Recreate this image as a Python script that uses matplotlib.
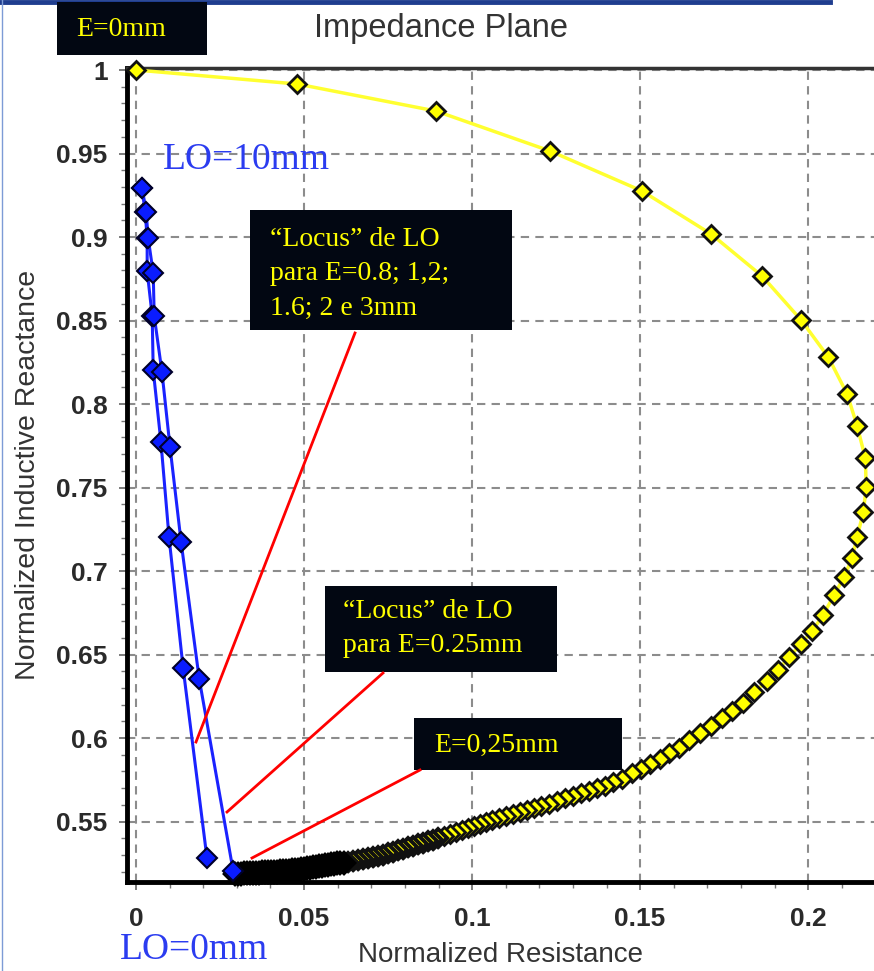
"""
Impedance plane chart: E=0mm curve plus LO loci, with slide-style callouts.
"""

import matplotlib

matplotlib.use("Agg")
import matplotlib.pyplot as plt
from matplotlib.lines import Line2D
from matplotlib.patches import Rectangle
from matplotlib.ticker import MultipleLocator


# E=0mm curve (yellow diamonds)
E0_R = [
    0.0000, 0.0480, 0.0893, 0.1232, 0.1506, 0.1711, 0.1863, 0.1979, 0.2060, 0.2116,
    0.2146, 0.2170, 0.2173, 0.2164, 0.2146, 0.2131, 0.2107, 0.2077, 0.2045, 0.2012,
    0.1979, 0.1943, 0.1911, 0.1878, 0.1839, 0.1807, 0.1774, 0.1744, 0.1711, 0.1679,
    0.1646, 0.1616, 0.1586, 0.1560, 0.1530, 0.1503, 0.1476, 0.1446, 0.1420, 0.1396,
    0.1372, 0.1348, 0.1324, 0.1301, 0.1277, 0.1253, 0.1229, 0.1205, 0.1185, 0.1164,
    0.1143, 0.1122, 0.1101, 0.1080, 0.1060, 0.1042, 0.1024, 0.1006, 0.0988, 0.0970,
    0.0952, 0.0935, 0.0917, 0.0899, 0.0884, 0.0869, 0.0854, 0.0839, 0.0824, 0.0810,
    0.0795, 0.0780, 0.0765, 0.0750, 0.0735, 0.0720, 0.0705, 0.0690, 0.0676, 0.0661,
    0.0646, 0.0631, 0.0619, 0.0607, 0.0598, 0.0589, 0.0580, 0.0571, 0.0562, 0.0554,
    0.0545, 0.0536, 0.0527, 0.0518, 0.0509, 0.0500, 0.0491, 0.0482, 0.0473, 0.0464,
    0.0455, 0.0446, 0.0437, 0.0429, 0.0420, 0.0411, 0.0402, 0.0393, 0.0384, 0.0375,
    0.0366, 0.0357, 0.0348, 0.0339, 0.0330, 0.0321, 0.0313, 0.0304, 0.0295,
]
E0_X = [
    1.0000, 0.9916, 0.9754, 0.9515, 0.9275, 0.9018, 0.8766, 0.8503, 0.8281, 0.8060,
    0.7868, 0.7677, 0.7503, 0.7353, 0.7204, 0.7078, 0.6964, 0.6856, 0.6737, 0.6641,
    0.6563, 0.6485, 0.6407, 0.6341, 0.6275, 0.6210, 0.6162, 0.6120, 0.6072, 0.6030,
    0.5988, 0.5940, 0.5910, 0.5874, 0.5844, 0.5814, 0.5790, 0.5754, 0.5737, 0.5713,
    0.5701, 0.5683, 0.5671, 0.5653, 0.5641, 0.5623, 0.5605, 0.5593, 0.5581, 0.5569,
    0.5557, 0.5545, 0.5533, 0.5521, 0.5509, 0.5497, 0.5485, 0.5473, 0.5461, 0.5449,
    0.5437, 0.5425, 0.5413, 0.5401, 0.5392, 0.5383, 0.5374, 0.5365, 0.5356, 0.5347,
    0.5338, 0.5329, 0.5320, 0.5311, 0.5302, 0.5293, 0.5287, 0.5281, 0.5275, 0.5269,
    0.5263, 0.5257, 0.5254, 0.5251, 0.5249, 0.5246, 0.5243, 0.5240, 0.5237, 0.5234,
    0.5231, 0.5228, 0.5225, 0.5222, 0.5219, 0.5216, 0.5214, 0.5212, 0.5210, 0.5208,
    0.5206, 0.5204, 0.5202, 0.5201, 0.5200, 0.5199, 0.5198, 0.5198, 0.5196, 0.5195,
    0.5194, 0.5192, 0.5192, 0.5192, 0.5190, 0.5189, 0.5188, 0.5187, 0.5186,
]

# LO loci (blue diamonds), LO=10mm at the top down to LO=0mm
LO_THICK_R = [0.0018, 0.0027, 0.0033, 0.0033, 0.0048, 0.0051, 0.0074, 0.0098, 0.0140, 0.0211]
LO_THICK_X = [0.9293, 0.9150, 0.8994, 0.8796, 0.8527, 0.8204, 0.7772, 0.7204, 0.6419, 0.5281]
LO_025_R = [0.0018, 0.0030, 0.0036, 0.0051, 0.0054, 0.0077, 0.0101, 0.0134, 0.0188, 0.0289]
LO_025_X = [0.9293, 0.9150, 0.8994, 0.8784, 0.8527, 0.8192, 0.7743, 0.7174, 0.6353, 0.5204]

X_TICKS = [0, 0.05, 0.1, 0.15, 0.2]
X_TICK_LABELS = ["0", "0.05", "0.1", "0.15", "0.2"]
Y_TICKS = [0.55, 0.6, 0.65, 0.7, 0.75, 0.8, 0.85, 0.9, 0.95, 1.0]
Y_TICK_LABELS = ["0.55", "0.6", "0.65", "0.7", "0.75", "0.8", "0.85", "0.9", "0.95", "1"]

W, H = 874, 971
SANS = ["Liberation Sans", "DejaVu Sans"]
SERIF = ["Liberation Serif", "DejaVu Serif"]
BOX_BG = "#020712"
LO_BLUE = "#2b3cf0"


def fxy(px, py):
    return px / W, 1 - py / H


def callout_box(fig, x0, y0, x1, y1, lines, tx, ty, step=34):
    fig.patches.append(Rectangle(fxy(x0, y1), (x1 - x0) / W, (y1 - y0) / H,
                                 transform=fig.transFigure, facecolor=BOX_BG,
                                 edgecolor="none", zorder=5))
    for i, s in enumerate(lines):
        fig.text(*fxy(tx, ty + i * step), s, family=SERIF, fontsize=20,
                 color="#ffff00", ha="left", va="center", zorder=6)


def red_line(fig, p0, p1):
    (x0, y0), (x1, y1) = fxy(*p0), fxy(*p1)
    fig.add_artist(Line2D([x0, x1], [y0, y1], color="#ff0000", lw=2,
                          transform=fig.transFigure, zorder=7))


fig = plt.figure(figsize=(W / 100, H / 100), dpi=100)
ax = fig.add_axes([127 / W, 1 - 882 / H, 1 - 127 / W, (882 - 68) / H])

ax.plot(E0_R, E0_X, color="#ffff30", lw=2.5, zorder=3, clip_on=False)
ax.plot(E0_R, E0_X, ls="none", marker="D", ms=9.2, mfc="#ffff00", mec="#111111",
        mew=2.0, zorder=4, clip_on=False)

# the crowded tail of the curve renders almost solid black in the original
mid = [i for i, r in enumerate(E0_R) if 0.062 <= r < 0.09 and i > 40]
low = [i for i, r in enumerate(E0_R) if r < 0.062 and i > 40]
ax.plot([E0_R[i] for i in mid], [E0_X[i] for i in mid], ls="none", marker="D",
        ms=9.2, mfc="#ffff00", mec="#111111", mew=2.8, zorder=4.1, clip_on=False)
ax.plot([E0_R[i] for i in low], [E0_X[i] for i in low], ls="none", marker="D",
        ms=9.6, mfc="#ffff00", mec="#000000", mew=4.0, zorder=4.2, clip_on=False)

for r, x in [(LO_THICK_R, LO_THICK_X), (LO_025_R, LO_025_X)]:
    ax.plot(r, x, color="#1a22ff", lw=2.2, marker="D", ms=10.5, mfc="#0a1cff",
            mec="#00002a", mew=1.5, zorder=5, clip_on=False)

ax.set_xlim(-0.0027, 0.2196)
ax.set_ylim(0.5138, 1.0012)
ax.set_xticks(X_TICKS)
ax.set_xticklabels(X_TICK_LABELS)
ax.set_yticks(Y_TICKS)
ax.set_yticklabels(Y_TICK_LABELS)
ax.xaxis.set_minor_locator(MultipleLocator(0.01))
ax.yaxis.set_minor_locator(MultipleLocator(0.01))
ax.tick_params(which="major", length=6, width=1.2, color="#666666",
               labelsize=19, labelcolor="#2a2a2a")
ax.tick_params(axis="x", which="major", pad=12)
ax.tick_params(axis="y", which="major", pad=8)
ax.tick_params(which="minor", length=4, width=1, color="#777777")
for lab in ax.get_xticklabels() + ax.get_yticklabels():
    lab.set_family(SANS)
    lab.set_fontweight("bold")

ax.grid(True, which="major", color="#8c8c8c", lw=1.5, linestyle=(0, (4, 3)))
ax.set_axisbelow(True)
ax.spines["right"].set_visible(False)
ax.spines["left"].set_linewidth(3.5)
ax.spines["bottom"].set_linewidth(3.5)
ax.spines["top"].set_linewidth(2.5)
ax.spines["top"].set_color("#333333")

fig.text(*fxy(441, 28), "Impedance Plane", family=SANS, fontsize=23.5,
         color="#333333", ha="center", va="center")
fig.text(*fxy(500, 955), "Normalized Resistance", family=SANS, fontsize=20,
         color="#333333", ha="center", va="center")
fig.text(*fxy(28, 475), "Normalized Inductive Reactance", family=SANS, fontsize=20.5,
         color="#333333", ha="center", va="center", rotation=90)

# slide frame
fig.add_artist(Line2D([0, 830 / W], [1 - 2 / H, 1 - 2 / H], color="#1f3d8f", lw=3.5,
                      transform=fig.transFigure))
fig.add_artist(Line2D([1.5 / W, 1.5 / W], [0, 1], color="#7d9bd6", lw=1,
                      transform=fig.transFigure))

callout_box(fig, 57, 2, 207, 55, ["E=0mm"], 76, 30)
callout_box(fig, 250, 210, 512, 330,
            ["\u201cLocus\u201d de LO", "para E=0.8; 1,2;", "1.6; 2 e 3mm"], 270, 240)
callout_box(fig, 325, 586, 557, 672, ["\u201cLocus\u201d de LO", "para E=0.25mm"], 343, 612)
callout_box(fig, 414, 718, 622, 770, ["E=0,25mm"], 434, 745)

fig.text(*fxy(163, 160), "LO=10mm", family=SERIF, fontsize=27, color=LO_BLUE,
         ha="left", va="center")
fig.text(*fxy(120, 950), "LO=0mm", family=SERIF, fontsize=27, color=LO_BLUE,
         ha="left", va="center")

red_line(fig, (355, 333), (196, 742))
red_line(fig, (383, 673), (227, 812))
red_line(fig, (420, 770), (252, 858))

fig.savefig("out.png", dpi=100)
